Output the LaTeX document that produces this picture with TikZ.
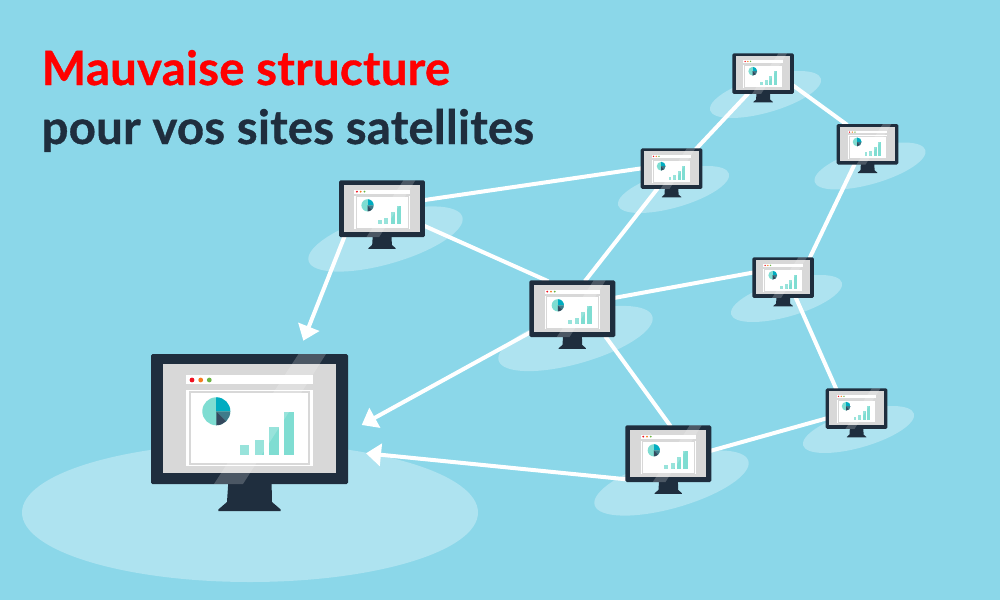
\documentclass[tikz,border=0pt]{standalone}
\usepackage{fontspec}
\setmainfont{Lato}
\newfontfamily\titlefont{Lato}[UprightFont=*-Bold,FakeBold=0.8,LetterSpace=0.6]
\usetikzlibrary{arrows.meta}
\definecolor{skybg}{RGB}{139,215,233}
\definecolor{pool}{RGB}{174,227,240}
\definecolor{navy}{RGB}{31,46,62}
\definecolor{screengrey}{RGB}{216,216,216}
\definecolor{mint}{RGB}{127,221,210}
\definecolor{pieblue}{RGB}{0,172,193}
\definecolor{piemid}{RGB}{62,123,138}
\definecolor{piedark}{RGB}{52,73,94}
\definecolor{dotred}{RGB}{240,16,32}
\definecolor{dotorange}{RGB}{245,124,31}
\definecolor{dotgreen}{RGB}{107,181,68}
\pgfdeclarelayer{under}
\pgfsetlayers{under,main}
\tikzset{
  monbox/.style={fill=navy,draw=none,inner sep=0pt,outer sep=0pt,anchor=north west,rounded corners=1.5pt},
  link/.style={white,line width=4pt},
  arrowlink/.style={link,-{Triangle[length=15pt,width=22pt]}},
  titletext/.style={inner sep=0pt,anchor=base west,font=\titlefont\fontsize{47.2}{50}\selectfont}
}
% name, left, top, scale
\newcommand{\monitor}[4]{%
  \pgfmathsetmacro{\mw}{197*#4}%
  \pgfmathsetmacro{\mh}{130*#4}%
  \pgfmathsetmacro{\mlw}{2*#4}%
  \begin{scope}[shift={(#2,#3)},scale=#4]
    \fill[navy] (77.5,125) -- (76,148) -- (67.3,155.5) -- (67.3,157) -- (129.7,157) -- (129.7,155.5) -- (121,148) -- (120.5,125) -- cycle;
  \end{scope}
  \node[monbox,minimum width=\mw pt,minimum height=\mh pt] (#1) at (#2,#3) {};
  \begin{scope}[shift={(#2,#3)},scale=#4]
    \fill[screengrey] (11.5,10) rectangle (185,118.5);
    \fill[white] (35,21.3) rectangle (161.7,30.3);
    \fill[dotred] (41,26) circle[radius=2.4];
    \fill[dotorange] (49.7,26) circle[radius=2.4];
    \fill[dotgreen] (58.3,26) circle[radius=2.4];
    \fill[white] (35,36) rectangle (161.7,112);
    \draw[screengrey,line width=\mlw pt] (39.3,38) rectangle (158.3,110);
    \begin{scope}
      \clip (65.3,57.3) circle[radius=14];
      \fill[mint] (50,42) rectangle (81,73);
      \fill[pieblue] (65.3,57.3) rectangle (81,42);
      \fill[piemid] (65.3,57.3) -- (81,57.3) -- (81,73) -- cycle;
      \fill[piedark] (65.3,57.3) -- (81,73) -- (65.3,73) -- cycle;
    \end{scope}
    \fill[mint] (89,101) rectangle (98.3,90.7);
    \fill[mint] (103.7,101) rectangle (113,86);
    \fill[mint] (118.3,101) rectangle (128,72.7);
    \fill[mint] (133.3,101) rectangle (142.7,58);
    \fill[white,opacity=.2] (147.5,0) -- (175,0) -- (92,130) -- (63,130) -- cycle;
  \end{scope}
}
\begin{document}
\begin{tikzpicture}[x=1pt,y=-1pt]
\useasboundingbox (0,0) rectangle (1000,600);
\begin{pgfonlayer}{under}
  \fill[skybg] (0,0) rectangle (1000,600);
  \fill[pool] (250,512.5) ellipse[x radius=228,y radius=69.5];
  \foreach \cx/\cy in {385.5/239,575.5/338.5,671.5/483}
    \fill[pool,rotate around={16:(\cx,\cy)}] (\cx,\cy) ellipse[x radius=80,y radius=25];
  \foreach \cx/\cy in {673.5/189.5,765.5/94.5,870/166,786.5/298.5,858.5/429.5}
    \fill[pool,rotate around={16:(\cx,\cy)}] (\cx,\cy) ellipse[x radius=57.6,y radius=18];
\end{pgfonlayer}

\node[titletext,text=red] (t1) at (41.5,85) {Mauvaise structure};
\node[titletext,text=navy] (t2) at (41.5,144) {pour vos sites satellites};

\monitor{a}{151}{354}{1}
\monitor{b}{339}{180.3}{0.4365}
\monitor{c}{529.3}{280.3}{0.4365}
\monitor{d}{625.3}{425.3}{0.4365}
\monitor{e}{640.7}{148.3}{0.3127}
\monitor{f}{732.3}{53.3}{0.3127}
\monitor{g}{836.7}{124}{0.3127}
\monitor{h}{752.3}{257.3}{0.3127}
\monitor{i}{825.7}{388.3}{0.3127}

\begin{pgfonlayer}{under}
  \draw[link] ([shift={(85,19.8)}]b.north west) -- ([shift={(1,20)}]e.north west);
  \draw[link] ([shift={(84,45)}]b.north west) -- ([shift={(19,1)}]c.north west);
  \draw[link] ([shift={(55.5,1)}]c.north west) -- ([shift={(17,40)}]e.north west);
  \draw[link] ([shift={(85,17.6)}]c.north west) -- ([shift={(1,15.2)}]h.north west);
  \draw[link] ([shift={(76,56)}]c.north west) -- ([shift={(45.4,1)}]d.north west);
  \draw[link] ([shift={(85,25.6)}]d.north west) -- ([shift={(1,30)}]i.north west);
  \draw[link] ([shift={(43.3,40)}]h.north west) -- ([shift={(10.7,1)}]i.north west);
  \draw[link] ([shift={(18,40)}]g.north west) -- ([shift={(57.2,1)}]h.north west);
  \draw[link] ([shift={(55,1)}]e.north west) -- ([shift={(16,40)}]f.north west);
  \draw[link] ([shift={(60,31.6)}]f.north west) -- ([shift={(10.6,1)}]g.north west);
  \draw[arrowlink] ([shift={(6,55)}]b.north west) -- ([shift={(152.3,-13.3)}]a.north west);
  \draw[arrowlink] ([shift={(1,52)}]c.north west) -- ([shift={(210.7,71)}]a.north west);
  \draw[arrowlink] ([shift={(1,54)}]d.north west) -- ([shift={(215,99.3)}]a.north west);
\end{pgfonlayer}
\end{tikzpicture}
\end{document}
